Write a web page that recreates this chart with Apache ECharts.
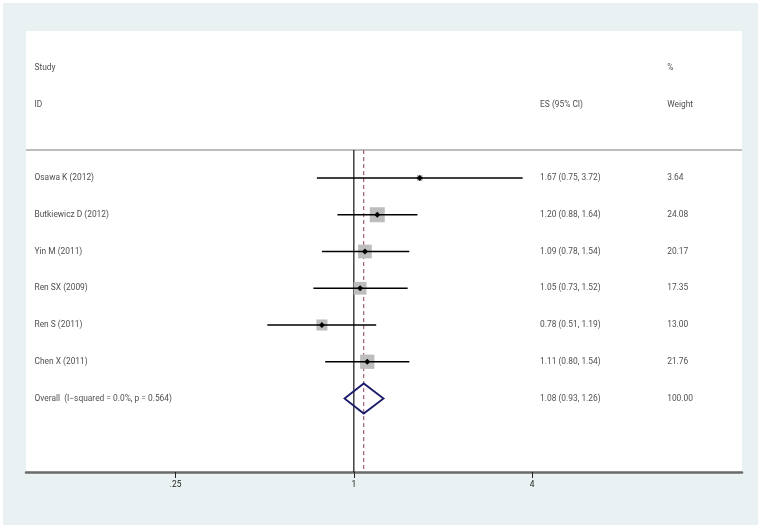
<!DOCTYPE html>
<html>
<head>
<meta charset="utf-8">
<script src="https://cdn.jsdelivr.net/npm/echarts@6/dist/echarts.min.js"></script>
<style>
html,body{margin:0;padding:0;background:#fff;}
#c{position:absolute;left:3px;top:3px;width:755px;height:522px;}
</style>
</head>
<body>
<div id="c"></div>
<script>
// ---- data ----
var studies = ['Osawa K (2012)', 'Butkiewicz D (2012)', 'Yin M (2011)', 'Ren SX (2009)', 'Ren S (2011)', 'Chen X (2011)'];
var esValues = [1.67, 1.20, 1.09, 1.05, 0.78, 1.11];
var ciLow = [0.75, 0.88, 0.78, 0.73, 0.51, 0.80];
var ciHigh = [3.72, 1.64, 1.54, 1.52, 1.19, 1.54];
var weights = [3.64, 24.08, 20.17, 17.35, 13.00, 21.76];
var overallLabel = 'Overall  (I\u2212squared = 0.0%, p = 0.564)';
var overallES = 1.08, overallLow = 0.93, overallHigh = 1.26, overallWeight = 100.00;
var headerLeft = ['Study', 'ID'];
var headerES = 'ES (95% CI)';
var headerWeight = ['%', 'Weight'];
var xTicks = [0.25, 1, 4];
var xMin = 0.078, xMax = 20.5;

// ---- build ----
var rows = studies.map(function (s, i) { return i + 1; });
var overallRow = studies.length + 1;
var font = 'Roboto';
var fs = 8.4;

function fmt(v) { return v.toFixed(2); }

var forestData = studies.map(function (s, i) {
  return [ciLow[i], ciHigh[i], esValues[i], rows[i], weights[i]];
});

var textData = [];
function addText(xf, y, t) { textData.push({ value: [xf, y], txt: t }); }
addText(0.0119, -2, headerLeft[0]);
addText(0.0119, -1, headerLeft[1]);
addText(0.718, -1, headerES);
addText(0.8955, -2, headerWeight[0]);
addText(0.8955, -1, headerWeight[1]);
studies.forEach(function (s, i) {
  addText(0.0119, rows[i], s);
  addText(0.718, rows[i], fmt(esValues[i]) + ' (' + fmt(ciLow[i]) + ', ' + fmt(ciHigh[i]) + ')');
  addText(0.8955, rows[i], fmt(weights[i]));
});
addText(0.0119, overallRow, overallLabel);
addText(0.718, overallRow, fmt(overallES) + ' (' + fmt(overallLow) + ', ' + fmt(overallHigh) + ')');
addText(0.8955, overallRow, fmt(overallWeight));

var chart = echarts.init(document.getElementById('c'));
chart.setOption({
  backgroundColor: '#EAF1F3',
  animation: false,
  grid: { left: 23, right: 16, top: 28, bottom: 53, show: true, backgroundColor: '#ffffff', borderWidth: 0 },
  xAxis: [{
    type: 'log', logBase: 2, min: xMin, max: xMax, position: 'bottom',
    axisLine: { show: true, onZero: false, lineStyle: { color: '#6a6a6a', width: 2.5 } },
    axisTick: { show: true, customValues: xTicks, length: 6, lineStyle: { color: '#222', width: 1 } },
    axisLabel: {
      show: true, customValues: xTicks, margin: 9, color: '#222', fontFamily: font, fontSize: fs,
      formatter: function (v) { return v < 1 ? String(v).replace(/^0/, '') : String(v); }
    },
    splitLine: { show: false }
  }, {
    type: 'value', min: 0, max: 1, show: false
  }],
  yAxis: [{ type: 'value', min: -3, max: 9, inverse: true, show: false }],
  series: [
    {
      type: 'line', xAxisIndex: 1, symbol: 'none', silent: true,
      data: [[0, 0.24], [1, 0.24]],
      lineStyle: { color: '#bcbcbc', width: 2 }, z: 1
    },
    {
      type: 'line', symbol: 'none', silent: true,
      data: [[1, 0.24], [1, 9]],
      lineStyle: { color: '#111', width: 1.2 }, z: 2
    },
    {
      type: 'line', symbol: 'none', silent: true,
      data: [[overallES, 0.24], [overallES, 9]],
      lineStyle: { color: '#8e3b55', width: 1, type: [4, 3] }, z: 2
    },
    {
      type: 'custom', silent: true, z: 3,
      encode: { x: [0, 1, 2], y: 3 },
      data: forestData,
      renderItem: function (params, api) {
        var y = api.value(3);
        var p0 = api.coord([api.value(0), y]);
        var p1 = api.coord([api.value(1), y]);
        var pe = api.coord([api.value(2), y]);
        var side = 3.06 * Math.sqrt(api.value(4));
        var d = 3;
        return {
          type: 'group',
          children: [
            { type: 'rect', shape: { x: pe[0] - side / 2, y: pe[1] - side / 2, width: side, height: side }, style: { fill: '#bdbdbd' } },
            { type: 'line', shape: { x1: p0[0], y1: p0[1], x2: p1[0], y2: p1[1] }, style: { stroke: '#000', lineWidth: 1.6 } },
            { type: 'polygon', shape: { points: [[pe[0] - d, pe[1]], [pe[0], pe[1] - d], [pe[0] + d, pe[1]], [pe[0], pe[1] + d]] }, style: { fill: '#000' } }
          ]
        };
      }
    },
    {
      type: 'custom', silent: true, z: 3,
      encode: { x: [0, 1, 2], y: 3 },
      data: [[overallLow, overallHigh, overallES, overallRow]],
      renderItem: function (params, api) {
        var y = api.value(3);
        var pl = api.coord([api.value(0), y]);
        var ph = api.coord([api.value(1), y]);
        var pt = api.coord([api.value(2), y - 0.41]);
        var pb = api.coord([api.value(2), y + 0.41]);
        return {
          type: 'polygon',
          shape: { points: [pl, pt, ph, pb] },
          style: { fill: 'none', stroke: '#1b1b6b', lineWidth: 1.8 }
        };
      }
    },
    {
      type: 'scatter', xAxisIndex: 1, symbolSize: 0, silent: true, z: 4,
      data: textData,
      label: {
        show: true, position: 'right', distance: 0, color: '#222',
        fontFamily: font, fontSize: fs,
        formatter: function (p) { return p.data.txt; }
      }
    }
  ]
});
</script>
</body>
</html>
